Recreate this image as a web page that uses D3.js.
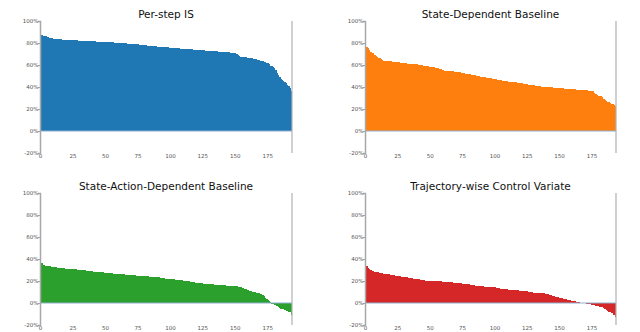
<!DOCTYPE html>
<html>
<head>
<meta charset="utf-8">
<script src="https://cdn.jsdelivr.net/npm/d3@7"></script>
<style>
  body { margin: 0; background: #fff; }
  svg { display: block; font-family: "DejaVu Sans", sans-serif; }
</style>
</head>
<body>
<script>
// values in percent, sorted descending, one per run (194 runs)
const perStepIS = [
  88, 87, 86.5, 86.3, 86, 85.5, 85.2, 85, 84.5, 84.2,
  84, 83.8, 83.6, 83.5, 83.4, 83.3, 83.2, 83.1, 83, 83,
  82.9, 82.8, 82.8, 82.7, 82.6, 82.5, 82.5, 82.4, 82.3, 82.2,
  82.1, 82, 82, 81.9, 81.8, 81.8, 81.7, 81.6, 81.6, 81.5,
  81.5, 81.4, 81.4, 81.3, 81.3, 81.2, 81.1, 81.1, 81, 81,
  80.9, 80.8, 80.8, 80.7, 80.6, 80.5, 80.5, 80.4, 80.3, 80.2,
  80.1, 80, 80, 79.9, 79.8, 79.7, 79.6, 79.5, 79.5, 79.4,
  79.3, 79.2, 79.1, 79, 78.9, 78.8, 78.6, 78.4, 78.2, 78,
  77.9, 77.8, 77.7, 77.6, 77.5, 77.4, 77.3, 77.2, 77, 76.9,
  76.8, 76.7, 76.6, 76.5, 76.4, 76.3, 76.2, 76.1, 76, 75.9,
  75.8, 75.7, 75.6, 75.5, 75.4, 75.3, 75.2, 75.1, 75, 74.9,
  74.8, 74.7, 74.6, 74.5, 74.4, 74.3, 74.2, 74.1, 74, 73.9,
  73.8, 73.7, 73.6, 73.5, 73.4, 73.3, 73.2, 73.1, 73, 73,
  72.9, 72.8, 72.7, 72.6, 72.5, 72.4, 72.3, 72.2, 72.1, 72,
  71.9, 71.8, 71.7, 71.6, 71.5, 71.4, 71.3, 71.2, 71, 70.8,
  70.5, 70, 69, 68, 67.5, 67.4, 67.3, 67.2, 67, 66.8,
  66.6, 66.4, 66.2, 66, 65.8, 65.5, 65.2, 65, 64.5, 64,
  63.6, 63.3, 63, 62.5, 62, 61.5, 60.5, 59.5, 58.8, 58,
  57, 55.5, 53, 51, 49, 47.5, 46.5, 45.5, 44.5, 43.5,
  42, 40.5, 39, 36.5
];
const stateBaseline = [
  79, 76, 75.5, 74, 72, 71, 70.5, 69.5, 68.5, 67.5,
  66.5, 66, 65.5, 64.5, 64, 63.8, 63.6, 63.5, 63.4, 63.3,
  63.2, 63.1, 63, 62.9, 62.8, 62.6, 62.4, 62.2, 62, 61.8,
  61.6, 61.4, 61.3, 61.2, 61.1, 61, 60.9, 60.8, 60.7, 60.6,
  60.5, 60.4, 60.2, 60, 59.8, 59.5, 59.2, 59, 58.8, 58.6,
  58.4, 58.2, 58, 57.8, 57.6, 57.4, 57, 56.5, 56, 55.5,
  55.2, 55, 54.8, 54.6, 54.5, 54.4, 54.3, 54.2, 54.1, 54,
  53.8, 53.6, 53.4, 53.2, 53, 52.8, 52.5, 52.2, 52, 51.8,
  51.6, 51.4, 51.2, 51, 50.8, 50.5, 50.2, 50, 49.7, 49.4,
  49.2, 49, 48.8, 48.6, 48.4, 48.2, 48, 47.8, 47.6, 47.4,
  47.2, 47, 46.8, 46.5, 46.2, 46, 45.8, 45.6, 45.4, 45.2,
  45, 44.8, 44.6, 44.5, 44.4, 44.3, 44.2, 44, 43.8, 43.6,
  43.4, 43.2, 43, 42.8, 42.6, 42.4, 42.2, 42, 41.8, 41.6,
  41.4, 41.2, 41, 40.8, 40.6, 40.5, 40.4, 40.3, 40.2, 40.1,
  40, 39.9, 39.8, 39.7, 39.6, 39.5, 39.4, 39.3, 39.2, 39.1,
  39, 38.9, 38.8, 38.7, 38.6, 38.5, 38.4, 38.3, 38.2, 38.1,
  38, 37.9, 37.8, 37.7, 37.6, 37.5, 37.4, 37.3, 37.2, 37.1,
  37, 36.9, 36.8, 36.7, 36.6, 36.4, 36, 35, 33.5, 32.5,
  32.2, 32, 31.8, 31, 29, 28, 27.2, 26.5, 26, 25.5,
  25, 24.5, 23.5, 22.7
];
const stateActionBaseline = [
  38, 36.5, 35, 34.3, 34, 33.7, 33.4, 33.2, 33, 32.8,
  32.7, 32.5, 32.3, 32.2, 32.1, 32, 31.8, 31.6, 31.4, 31.3,
  31.2, 31.1, 31, 30.9, 30.8, 30.7, 30.6, 30.5, 30.4, 30.3,
  30.2, 30.1, 30, 29.8, 29.6, 29.5, 29.4, 29.2, 29, 28.9,
  28.8, 28.6, 28.4, 28.3, 28.2, 28.1, 28, 27.9, 27.8, 27.7,
  27.6, 27.5, 27.3, 27.1, 27, 26.9, 26.8, 26.7, 26.6, 26.5,
  26.4, 26.3, 26.2, 26.1, 26, 25.9, 25.8, 25.7, 25.6, 25.5,
  25.4, 25.3, 25.2, 25.1, 25, 24.9, 24.8, 24.7, 24.6, 24.5,
  24.4, 24.3, 24.2, 24.1, 24, 23.9, 23.8, 23.7, 23.6, 23.5,
  23.4, 23.2, 23, 22.8, 22.6, 22.4, 22.2, 22, 21.9, 21.8,
  21.7, 21.6, 21.5, 21.4, 21.3, 21.2, 21.1, 21, 20.8, 20.6,
  20.4, 20.2, 20, 19.8, 19.6, 19.4, 19.2, 19, 18.8, 18.6,
  18.4, 18.2, 18, 17.9, 17.8, 17.7, 17.6, 17.5, 17.4, 17.3,
  17.2, 17.1, 17, 16.9, 16.8, 16.7, 16.6, 16.5, 16.4, 16.3,
  16.2, 16.1, 16, 15.9, 15.8, 15.7, 15.6, 15.5, 15.4, 15.3,
  15.2, 15.1, 15, 14.8, 14.5, 14, 13.5, 13, 12.5, 12,
  11.5, 11, 10.5, 10, 9.8, 9.6, 9.4, 9.2, 9, 8.5,
  8, 7, 6, 5, 3.5, 2.5, 1.5, 0.5, -0.5, -1,
  -1.5, -2, -3, -4, -4.5, -5, -5, -5.2, -6.5, -7,
  -7.5, -8, -8.5, -11
];
const trajectoryCV = [
  35, 33.5, 32, 31, 30, 29.5, 29, 28.5, 28.2, 28,
  27.8, 27.5, 27.2, 27, 26.8, 26.5, 26.3, 26.1, 26, 25.8,
  25.6, 25.4, 25.2, 25, 24.8, 24.6, 24.4, 24.2, 24, 23.8,
  23.6, 23.4, 23.2, 23, 22.8, 22.6, 22.4, 22.2, 22, 21.8,
  21.6, 21.4, 21.2, 21, 20.8, 20.6, 20.4, 20.3, 20.2, 20.1,
  20, 20, 19.9, 19.9, 19.8, 19.8, 19.7, 19.7, 19.6, 19.5,
  19.4, 19.3, 19.2, 19.1, 19, 18.9, 18.8, 18.7, 18.6, 18.5,
  18.4, 18.2, 18, 17.9, 17.8, 17.7, 17.6, 17.5, 17.3, 17.1,
  16.9, 16.7, 16.5, 16.3, 16.1, 15.9, 15.7, 15.5, 15.4, 15.3,
  15.2, 15.1, 15, 15, 14.9, 14.8, 14.7, 14.6, 14.5, 14.4,
  14.2, 14, 13.6, 13.2, 12.9, 12.7, 12.6, 12.5, 12.4, 12.3,
  12.2, 12.1, 12, 11.9, 11.8, 11.7, 11.6, 11.5, 11.4, 11.3,
  11.2, 11.1, 11, 10.9, 10.7, 10.5, 10.3, 10.1, 9.9, 9.7,
  9.5, 9.4, 9.3, 9.2, 9.1, 9, 8.9, 8.8, 8.7, 8.5,
  8.3, 8, 7.5, 7, 6.5, 6.2, 6, 5.8, 5.6, 5.3,
  5, 4.6, 4.2, 3.8, 3.5, 3.2, 3, 2.8, 2.5, 2.2,
  2, 1.7, 1.4, 1.1, 0.8, 0.5, 0.3, 0.1, 0, -0.2,
  -0.4, -0.6, -0.8, -1, -1.2, -1.5, -1.8, -2.1, -2.4, -2.7,
  -3, -3.3, -3.6, -4, -4.5, -5, -6, -7, -8, -8.5,
  -9, -9.5, -10.5, -12.5
];

const titles = ["Per-step IS", "State-Dependent Baseline", "State-Action-Dependent Baseline", "Trajectory-wise Control Variate"];
const seriesList = [perStepIS, stateBaseline, stateActionBaseline, trajectoryCV];
const colors = ["#1f77b4", "#ff7f0e", "#2ca02c", "#d62728"];
const yTicks = [-20, 0, 20, 40, 60, 80, 100];
const xTicks = [0, 25, 50, 75, 100, 125, 150, 175];

const W = 640, H = 332;
const svg = d3.select("body").append("svg").attr("width", W).attr("height", H);

// panel boxes: left, right, top (100%), bottom (-20%)
const panels = [
  { l: 40, r: 292, t: 21, b: 153 },
  { l: 365, r: 616, t: 21, b: 153 },
  { l: 40, r: 292, t: 193, b: 325 },
  { l: 365, r: 616, t: 193, b: 325 }
];

panels.forEach((p, k) => {
  const data = seriesList[k];
  const n = data.length;
  const x = d3.scaleLinear().domain([0, n]).range([p.l, p.r]);
  const y = d3.scaleLinear().domain([-20, 100]).range([p.b, p.t]);
  const g = svg.append("g");
  const step = x(1) - x(0);

  // bars
  g.append("g").attr("shape-rendering", "crispEdges")
    .selectAll("rect").data(data).join("rect")
    .attr("x", (d, i) => x(i))
    .attr("width", step + 0.2)
    .attr("y", d => y(Math.max(0, d)))
    .attr("height", d => Math.abs(y(d) - y(0)))
    .attr("fill", colors[k]);

  // zero line
  g.append("line")
    .attr("x1", p.l).attr("x2", p.r)
    .attr("y1", y(0)).attr("y2", y(0))
    .attr("stroke", "#8fb0cf").attr("stroke-width", 1);

  // y axis
  const yAxis = d3.axisLeft(y).tickValues(yTicks).tickSize(2).tickFormat(d => d + "%");
  const ya = g.append("g").attr("transform", `translate(${p.l},0)`).call(yAxis);
  ya.select(".domain").attr("stroke", "#a8a8a8").attr("stroke-width", 1.5);
  ya.selectAll(".tick line").attr("stroke", "#a8a8a8");
  ya.selectAll("text").attr("font-size", 5.5).attr("fill", "#555").attr("x", -1.5)
    .attr("font-family", "DejaVu Sans");

  // x tick labels
  const xAxis = d3.axisBottom(x).tickValues(xTicks).tickSize(0).tickFormat(d3.format("d"));
  const xa = g.append("g").attr("transform", `translate(0,${p.b})`).call(xAxis);
  xa.select(".domain").remove();
  xa.selectAll("text").attr("font-size", 5.5).attr("fill", "#555").attr("dy", "0.55em")
    .attr("y", 2).attr("font-family", "DejaVu Sans");

  // right spine
  g.append("line")
    .attr("x1", p.r).attr("x2", p.r).attr("y1", p.t).attr("y2", p.b)
    .attr("stroke", "#b0b0b0").attr("stroke-width", 1.2);

  // title
  g.append("text")
    .attr("x", (p.l + p.r) / 2).attr("y", p.t - 3)
    .attr("text-anchor", "middle")
    .attr("font-size", 10.5).attr("fill", "#111")
    .text(titles[k]);
});
</script>
</body>
</html>
